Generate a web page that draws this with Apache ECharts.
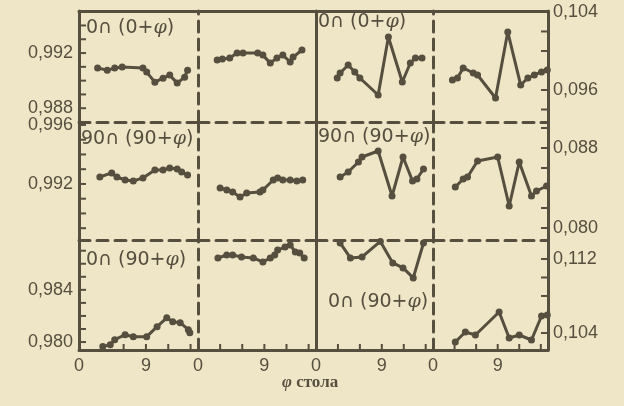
<!DOCTYPE html>
<html lang="ru">
<head>
<meta charset="UTF-8">
<script src="https://cdn.jsdelivr.net/npm/echarts@6/dist/echarts.min.js"></script>
<style>
    html, body, #main {
        width: 624px;
        height: 406px;
        margin: 0;
        padding: 0;
        background: #efe6c7;
    }
</style>
<title>φ стола</title>
</head>
<body>
<div id="main"></div>
<script>
    // ticks of the φ axis (each panel 0..16)
    var xTicks = [3, 6, 9, 12, 15];
    var xLabels = [0, 9];

    // left scale, per row
    var leftTicks1 = [0.988, 0.989, 0.990, 0.991, 0.992, 0.993, 0.994];
    var leftLabels1 = [0.988, 0.992];
    var leftTicks2 = [0.989, 0.990, 0.991, 0.992, 0.993, 0.994, 0.995, 0.996];
    var leftLabels2 = [0.992, 0.996];
    var leftTicks3 = [0.980, 0.981, 0.982, 0.983, 0.984, 0.985, 0.986, 0.987];
    var leftLabels3 = [0.980, 0.984];
    // right scale, per row
    var rightTicks1 = [0.094, 0.096, 0.098, 0.100, 0.102, 0.104];
    var rightLabels1 = [0.096, 0.104];
    var rightTicks2 = [0.080, 0.082, 0.084, 0.086, 0.088, 0.090];
    var rightLabels2 = [0.080, 0.088];
    var rightTicks3 = [0.104, 0.106, 0.108, 0.110, 0.112];
    var rightLabels3 = [0.104, 0.112];

    var panelNames = ['0∩ (0+{i|φ})', '90∩ (90+{i|φ})', '0∩ (90+{i|φ})'];

    // row 1: 0∩(0+φ)
    var a1Phi = [2.5, 3.8, 4.8, 5.8, 8.6, 9.1, 10.2, 11.3, 12.2, 13.2, 14.2, 14.6];
    var a1Val = [0.99091, 0.99076, 0.99091, 0.99098, 0.99091, 0.99062, 0.98989, 0.99018, 0.99040, 0.98982, 0.99025, 0.99076];
    var b1Phi = [2.6, 3.3, 4.3, 5.3, 6.1, 8.1, 8.8, 9.8, 10.7, 11.5, 12.5, 12.9, 14.1];
    var b1Val = [0.99149, 0.99156, 0.99164, 0.99200, 0.99200, 0.99200, 0.99185, 0.99127, 0.99164, 0.99185, 0.99135, 0.99171, 0.99222];
    var c1Phi = [2.9, 3.3, 4.4, 5.3, 6.0, 8.5, 9.9, 11.8, 12.9, 13.6, 14.5];
    var c1Val = [0.09723, 0.09774, 0.09856, 0.09785, 0.09723, 0.09549, 0.10144, 0.09682, 0.09877, 0.09928, 0.09928];
    var d1Phi = [2.7, 3.4, 4.2, 5.6, 6.2, 8.7, 10.4, 12.2, 13.2, 14.1, 15.1, 15.9];
    var d1Val = [0.09703, 0.09723, 0.09826, 0.09774, 0.09754, 0.09518, 0.10195, 0.09651, 0.09723, 0.09754, 0.09785, 0.09805];

    // row 2: 90∩(90+φ)
    var a2Phi = [2.8, 4.4, 5.1, 6.2, 7.3, 8.6, 10.2, 11.3, 12.2, 13.2, 13.8, 14.6];
    var a2Val = [0.99247, 0.99275, 0.99247, 0.99227, 0.99220, 0.99241, 0.99295, 0.99295, 0.99308, 0.99302, 0.99281, 0.99261];
    var b2Phi = [3.0, 3.9, 4.7, 5.7, 6.6, 8.4, 8.8, 10.2, 10.8, 11.5, 12.5, 13.4, 14.2];
    var b2Val = [0.99173, 0.99159, 0.99146, 0.99112, 0.99139, 0.99146, 0.99159, 0.99227, 0.99241, 0.99227, 0.99227, 0.99220, 0.99227];
    var c2Phi = [3.3, 4.4, 5.8, 6.3, 8.5, 10.4, 11.9, 13.2, 13.8, 14.7];
    var c2Val = [0.0851, 0.0856, 0.0866, 0.0871, 0.0877, 0.0832, 0.0871, 0.0847, 0.0849, 0.0859];
    var d2Phi = [3.1, 4.2, 4.8, 6.2, 9.0, 10.6, 12.0, 13.7, 14.4, 15.8];
    var d2Val = [0.0841, 0.0849, 0.0851, 0.0867, 0.0871, 0.0822, 0.0866, 0.0832, 0.0837, 0.0842];

    // row 3: 0∩(90+φ)
    var a3Phi = [3.2, 4.2, 4.8, 6.2, 7.3, 9.1, 10.5, 11.8, 12.6, 13.6, 14.7, 14.9];
    var a3Val = [0.97965, 0.97980, 0.98018, 0.98056, 0.98041, 0.98041, 0.98118, 0.98186, 0.98156, 0.98148, 0.98095, 0.98072];
    var b3Phi = [2.7, 3.9, 4.7, 5.9, 7.5, 8.8, 9.8, 10.4, 10.8, 11.8, 12.5, 13.2, 13.8, 14.4];
    var b3Val = [0.98644, 0.98667, 0.98667, 0.98652, 0.98644, 0.98614, 0.98644, 0.98667, 0.98705, 0.98728, 0.98744, 0.98690, 0.98682, 0.98644];
    var c3Phi = [3.3, 4.7, 6.3, 8.8, 10.5, 11.9, 13.3, 14.7];
    var c3Val = [0.11373, 0.11211, 0.11222, 0.11390, 0.11157, 0.11103, 0.10995, 0.11373];
    var d3Phi = [3.1, 4.5, 5.9, 9.2, 10.6, 12.0, 13.7, 15.1, 15.9];
    var d3Val = [0.10303, 0.10411, 0.10378, 0.10627, 0.10346, 0.10378, 0.10324, 0.10584, 0.10595];

    var panels = [
        [[a1Phi, a1Val], [b1Phi, b1Val], [c1Phi, c1Val], [d1Phi, d1Val]],
        [[a2Phi, a2Val], [b2Phi, b2Val], [c2Phi, c2Val], [d2Phi, d2Val]],
        [[a3Phi, a3Val], [b3Phi, b3Val], [c3Phi, c3Val], [d3Phi, d3Val]]
    ];
    var leftScale = [
        {range: [0.98700, 0.99505], ticks: leftTicks1, labels: leftLabels1},
        {range: [0.98820, 0.99620], ticks: leftTicks2, labels: leftLabels2},
        {range: [0.97939, 0.98782], ticks: leftTicks3, labels: leftLabels3}
    ];
    var rightScale = [
        {range: [0.09272, 0.10410], ticks: rightTicks1, labels: rightLabels1},
        {range: [0.07880, 0.09060], ticks: rightTicks2, labels: rightLabels2},
        {range: [0.10216, 0.11405], ticks: rightTicks3, labels: rightLabels3}
    ];

    var colEdges = [79, 198, 316, 433, 548];
    var rowEdges = [11, 122, 240, 350];
    var ink = '#564e3e';
    var dash = [11, 7];

    function fmt(v) {
        return v.toFixed(3).replace('.', ',');
    }

    var grids = [], xAxes = [], yAxes = [], series = [];
    for (var r = 0; r < 3; r++) {
        for (var c = 0; c < 4; c++) {
            var g = r * 4 + c;
            grids.push({
                left: colEdges[c], top: rowEdges[r],
                width: colEdges[c + 1] - colEdges[c],
                height: rowEdges[r + 1] - rowEdges[r]
            });
            var sc = c < 2 ? leftScale[r] : rightScale[r];
            // data x axis (bottom)
            xAxes.push({
                type: 'value', gridIndex: g, position: 'bottom', min: 0, max: 16,
                axisLine: {show: r === 2, onZero: false, lineStyle: {color: ink, width: 3}},
                axisTick: {show: false},
                axisLabel: {show: r === 2, margin: 7, customValues: xLabels, color: ink, fontSize: 18},
                splitLine: {show: false}
            });
            // top border
            xAxes.push({
                type: 'value', gridIndex: g, position: 'top', min: 0, max: 16,
                axisLine: {show: true, onZero: false,
                    lineStyle: {color: ink, width: 3, type: r === 0 ? 'solid' : dash}},
                axisTick: {show: false}, axisLabel: {show: false}, splitLine: {show: false}
            });
            // left y axis (data)
            yAxes.push({
                type: 'value', gridIndex: g, position: 'left',
                min: sc.range[0], max: sc.range[1],
                axisLine: {show: true, onZero: false,
                    lineStyle: {color: ink, width: 3, type: (c === 0 || c === 2) ? 'solid' : dash}},
                axisTick: {show: false},
                axisLabel: {show: c === 0, margin: 6, customValues: sc.labels, formatter: fmt,
                    color: ink, fontSize: 18},
                splitLine: {show: false}
            });
            // right y axis
            yAxes.push({
                type: 'value', gridIndex: g, position: 'right',
                min: sc.range[0], max: sc.range[1],
                axisLine: {show: c === 3, onZero: false, lineStyle: {color: ink, width: 3}},
                axisTick: {show: false},
                axisLabel: {show: c === 3, margin: 5, customValues: sc.labels, formatter: fmt,
                    color: ink, fontSize: 18},
                splitLine: {show: false}
            });
            var p = panels[r][c];
            series.push({
                type: 'line', xAxisIndex: 2 * g, yAxisIndex: 2 * g,
                data: p[0].map(function (x, i) { return [x, p[1][i]]; }),
                symbol: 'circle', symbolSize: 7,
                lineStyle: {color: ink, width: 3},
                itemStyle: {color: ink}
            });
        }
    }

    // panel captions and axis name
    var italic = {fontFamily: 'DejaVu Serif', fontSize: 19, fontStyle: 'italic', fill: ink, color: ink};
    var graphics = [
        {text: panelNames[0], left: 86, top: 19},
        {text: panelNames[0], left: 318, top: 13},
        {text: panelNames[1], left: 81, top: 130},
        {text: panelNames[1], left: 318, top: 128},
        {text: panelNames[2], left: 86, top: 251},
        {text: panelNames[2], left: 328, top: 293}
    ].map(function (t) {
        return {
            type: 'text', left: t.left, top: t.top,
            style: {text: t.text, fill: ink, font: '19px "DejaVu Sans"', rich: {i: italic}}
        };
    });
    graphics.push({
        type: 'text', left: 282, top: 374,
        style: {
            text: '{i|φ} стола', fill: ink, font: 'bold 17px "Liberation Serif"',
            rich: {i: {fontFamily: 'Liberation Serif', fontSize: 17, fontStyle: 'italic', fontWeight: 'bold', fill: ink, color: ink}}
        }
    });

    var myChart = echarts.init(document.getElementById('main'));
    myChart.setOption({
        animation: false,
        grid: grids,
        xAxis: xAxes,
        yAxis: yAxes,
        series: series,
        graphic: graphics
    });

    // tick marks, placed through the axes' own scales
    var tickMarks = [];
    function tick(x1, y1, x2, y2) {
        tickMarks.push({type: 'line', silent: true, shape: {x1: x1, y1: y1, x2: x2, y2: y2},
            style: {stroke: ink, lineWidth: 2}});
    }
    for (var rr = 0; rr < 3; rr++) {
        for (var cc = 0; cc < 4; cc++) {
            var gi = rr * 4 + cc;
            var s = cc < 2 ? leftScale[rr] : rightScale[rr];
            var xl = myChart.convertToPixel({xAxisIndex: 2 * gi}, 0);
            var xr = myChart.convertToPixel({xAxisIndex: 2 * gi}, 16);
            var yb = myChart.convertToPixel({yAxisIndex: 2 * gi}, s.range[0]);
            if (cc === 0 || cc === 3) {
                s.ticks.forEach(function (v) {
                    var y = myChart.convertToPixel({yAxisIndex: 2 * gi}, v);
                    if (cc === 0) tick(xl, y, xl + 7, y);
                    else tick(xr - 7, y, xr, y);
                });
            }
            if (rr === 2) {
                xTicks.forEach(function (v) {
                    var x = myChart.convertToPixel({xAxisIndex: 2 * gi}, v);
                    tick(x, yb, x, yb - 6);
                });
            }
        }
    }
    myChart.setOption({graphic: graphics.concat(tickMarks)});
</script>
</body>
</html>
